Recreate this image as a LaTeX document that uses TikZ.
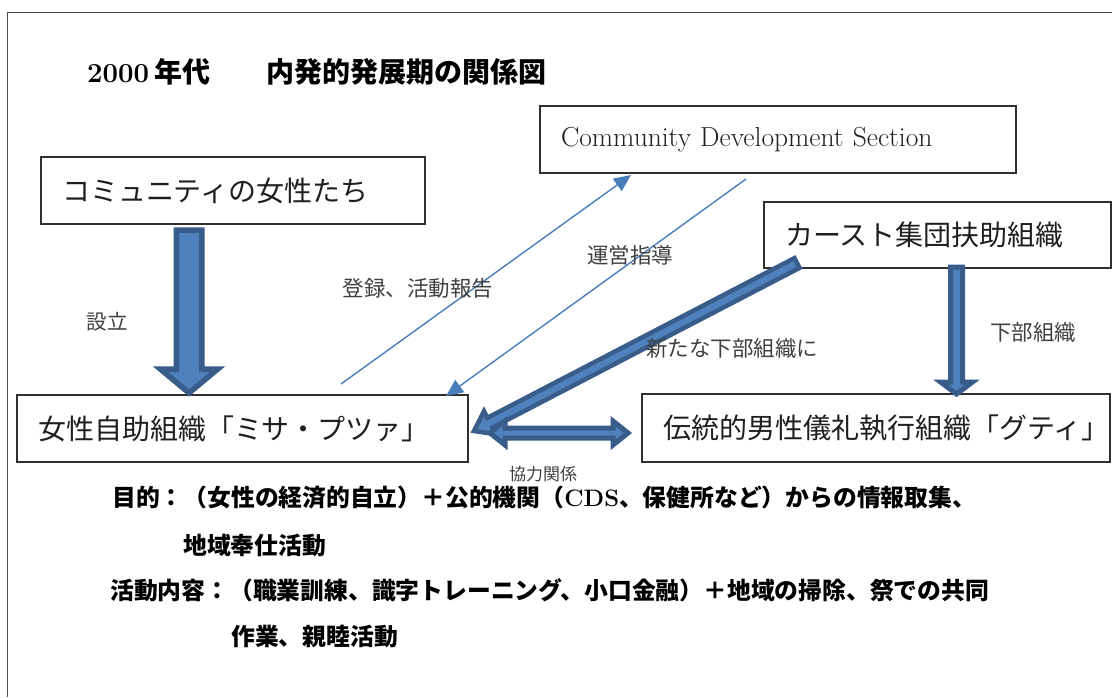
\documentclass[tikz,border=0pt]{standalone}
\usepackage{fontspec}
\newfontfamily\jp{Noto Sans CJK JP}
\usetikzlibrary{calc,arrows.meta}
\definecolor{afill}{HTML}{4F81BD}
\definecolor{aedge}{HTML}{385D8A}
\definecolor{thinarr}{HTML}{4A7EBB}
\definecolor{boxline}{HTML}{303030}
\definecolor{lbl}{HTML}{404040}
% #1 start, #2 tip, #3 shaft half width, #4 head half width, #5 head length, #6 border width
\newcommand\BlkArrow[6]{%
  \coordinate (ba-s) at (#1);
  \coordinate (ba-e) at (#2);
  \coordinate (ba-h) at ($(ba-e)!#5!(ba-s)$);
  \filldraw[blockarrow, line width=#6]
    ($(ba-s)!#3!90:(ba-e)$) -- ($(ba-h)!#3!90:(ba-e)$) -- ($(ba-h)!#4!90:(ba-e)$) -- (ba-e)
    -- ($(ba-h)!#4!-90:(ba-e)$) -- ($(ba-h)!#3!-90:(ba-e)$) -- ($(ba-s)!#3!-90:(ba-e)$) -- cycle;
}
\newcommand\DblArrow[6]{%
  \coordinate (da-a) at (#1);
  \coordinate (da-b) at (#2);
  \coordinate (da-ha) at ($(da-a)!#5!(da-b)$);
  \coordinate (da-hb) at ($(da-b)!#5!(da-a)$);
  \filldraw[blockarrow, line width=#6]
    (da-a) -- ($(da-ha)!#4!90:(da-b)$) -- ($(da-ha)!#3!90:(da-b)$) -- ($(da-hb)!#3!90:(da-b)$)
    -- ($(da-hb)!#4!90:(da-b)$) -- (da-b) -- ($(da-hb)!#4!-90:(da-b)$) -- ($(da-hb)!#3!-90:(da-b)$)
    -- ($(da-ha)!#3!-90:(da-b)$) -- ($(da-ha)!#4!-90:(da-b)$) -- cycle;
}
\begin{document}
\begin{tikzpicture}[x=1pt,y=-1pt,
  box/.style={draw=boxline, line width=1.2pt, rectangle, inner xsep=21pt, inner ysep=0pt,
    align=left, font=\jp\fontsize{28}{32}\selectfont, text=black!88},
  lab/.style={font=\jp\fontsize{21.5}{24}\selectfont, text=lbl, inner sep=0pt},
  body/.style={font=\jp\bfseries\fontsize{23.8}{26}\selectfont, anchor=base west, inner sep=0pt},
  thinarrow/.style={draw=thinarr, line width=1.4pt, -{Triangle[length=17pt,width=15pt]}},
  blockarrow/.style={fill=afill, draw=aedge, line join=miter}]
\useasboundingbox (0,0) rectangle (1112,697);
\fill[white] (0,0) rectangle (1112,697);
% outer frame
\draw[line width=1.5pt, draw=black!70] (1112,12.5) -- (7.5,12.5) -- (7.5,697);

% title
\node[anchor=base west, inner sep=0pt, font=\fontsize{27.5}{30}\selectfont] (title) at (87,82)
  {\bfseries 2000\hspace{5pt}{\jp\fontsize{28}{30}\selectfont 年代　　内発的発展期の関係図}};

% boxes
\node[box, minimum width=384pt, minimum height=67pt, text width=342pt] (comm) at (233,190.5) {コミュニティの女性たち};
\node[box, minimum width=476pt, minimum height=67pt, text width=434pt, font=\fontsize{27.5}{30}\selectfont] (cds) at (778,139.5) {Community Development Section};
\node[box, minimum width=347pt, minimum height=66pt, text width=305pt] (caste) at (937.5,235) {カースト集団扶助組織};
\node[box, minimum width=451pt, minimum height=67pt, text width=409pt] (misa) at (242.5,428.5) {女性自助組織「ミサ・プツァ」};
\node[box, minimum width=468pt, minimum height=68pt, text width=426pt] (guti) at (876,428) {伝統的男性儀礼執行組織「グティ」};

% connector end points
\coordinate (a1s) at (189,230);
\coordinate (a1e) at (189,393);
\coordinate (a2s) at (956.5,267);
\coordinate (a2e) at (956.5,394);
\coordinate (a3s) at (797,263);
\coordinate (a3e) at (474,431);
\coordinate (a4s) at (490,433);
\coordinate (a4e) at (628,433);
\coordinate (t1s) at (341,384);
\coordinate (t1e) at (631,175);
\coordinate (t2s) at (746,179);
\coordinate (t2e) at (446,396);

% block arrows
\BlkArrow{a1s}{a1e}{12.75pt}{28.75pt}{24pt}{5.5pt}
\BlkArrow{a2s}{a2e}{6pt}{16pt}{12pt}{5pt}
\BlkArrow{a3s}{a3e}{5.5pt}{13pt}{18pt}{4.5pt}
\DblArrow{a4s}{a4e}{5pt}{12pt}{15pt}{5pt}

% thin arrows
\draw[thinarrow] (t1s) -- (t1e);
\draw[thinarrow] (t2s) -- (t2e);

% labels
\node[lab, font=\jp\fontsize{20.5}{24}\selectfont] (l1) at (107,322) {設立};
\node[lab] (l2) at (418,288) {登録、活動報告};
\node[lab] (l3) at (630,255) {運営指導};
\node[lab] (l4) at (732,348) {新たな下部組織に};
\node[lab] (l5) at (1033,332) {下部組織};
\node[lab, font=\jp\fontsize{17}{20}\selectfont] (l6) at (543,474) {協力関係};

% body text
\node[body] (b1) at (112,506) {目的：（女性の経済的自立）＋公的機関（{\normalfont\bfseries CDS}、保健所など）からの情報取集、};
\node[body] (b2) at (183,554) {地域奉仕活動};
\node[body] (b3) at (110,599) {活動内容：（職業訓練、識字トレーニング、小口金融）＋地域の掃除、祭での共同};
\node[body] (b4) at (231,645) {作業、親睦活動};
\end{tikzpicture}
\end{document}
